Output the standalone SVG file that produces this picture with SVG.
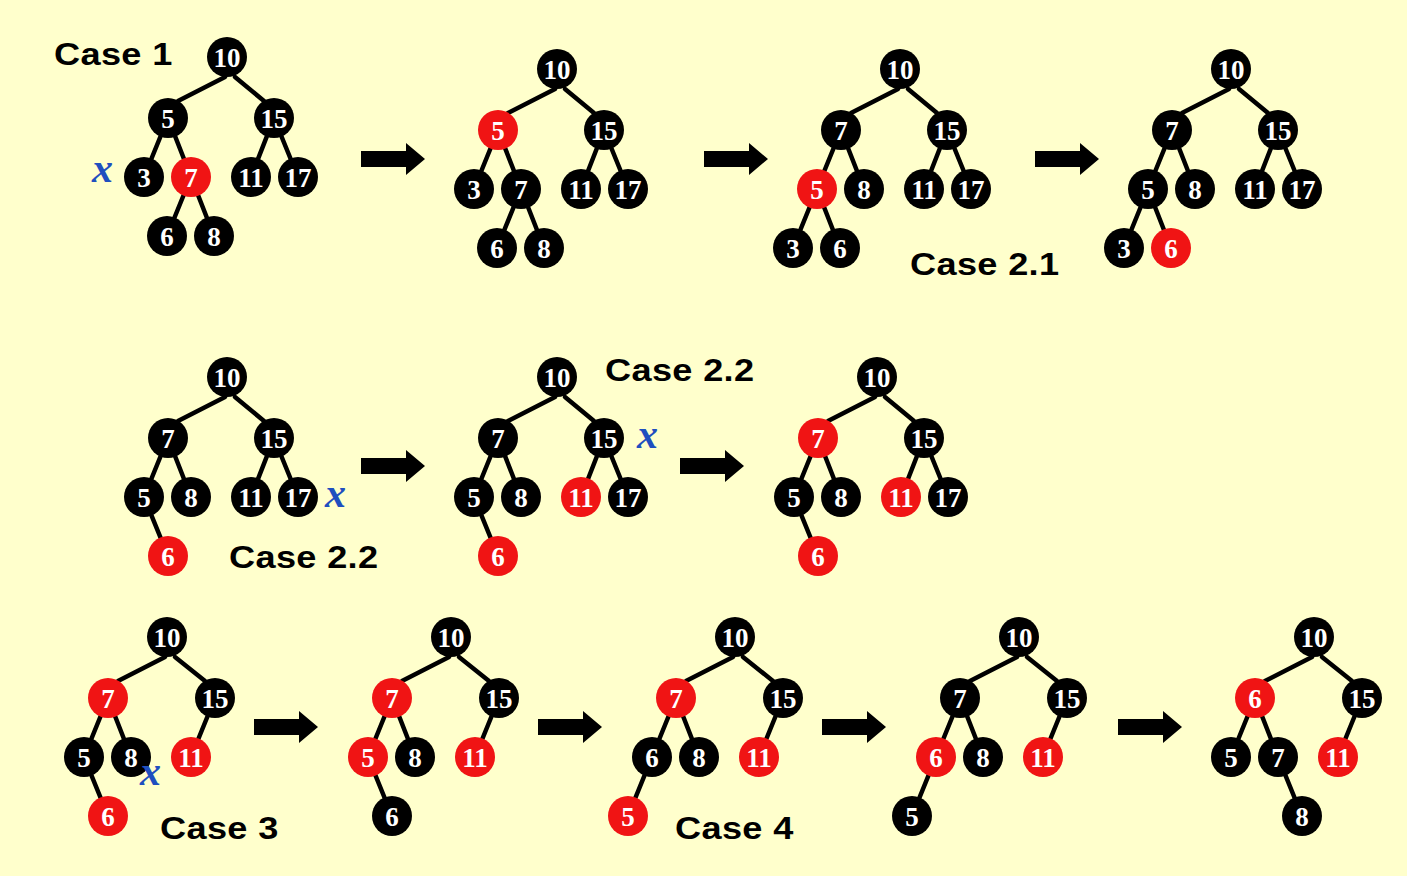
<svg xmlns="http://www.w3.org/2000/svg" xmlns:xlink="http://www.w3.org/1999/xlink" width="1407" height="876" viewBox="0 0 1407 876">
<style>
.e{stroke:#000;stroke-width:4.5;stroke-linecap:round}
.b{fill:#000}
.r{fill:#f01414}
.t{font-family:'Liberation Serif','Times New Roman',serif;font-weight:bold;font-size:27px;fill:#fff;text-anchor:middle}
.cs{font-family:'Liberation Sans',Arial,sans-serif;font-weight:bold;font-size:32px;letter-spacing:0.3px;fill:#000}
.x{font-family:'Liberation Serif','Times New Roman',serif;font-style:italic;font-weight:bold;font-size:42px;fill:#1f4fbf}
</style>
<defs>
<path id="arrow" d="M0,-8 H45 V-16 L64,0 L45,16 V8 H0 Z" fill="#000"/>
</defs>
<rect width="1407" height="876" fill="#ffffcc"/>

<g id="connectors">
<!-- Tree A -->
<line class="e" x1="225" y1="77" x2="178" y2="101"/><line class="e" x1="235" y1="77" x2="264" y2="101"/>
<line class="e" x1="168" y1="118" x2="144" y2="177"/><line class="e" x1="168" y1="118" x2="191" y2="177"/>
<line class="e" x1="274" y1="118" x2="251" y2="177"/><line class="e" x1="274" y1="118" x2="298" y2="177"/>
<line class="e" x1="191" y1="177" x2="167" y2="236"/><line class="e" x1="191" y1="177" x2="214" y2="236"/>
<!-- Tree B -->
<line class="e" x1="555" y1="89" x2="508" y2="113"/><line class="e" x1="565" y1="89" x2="594" y2="113"/>
<line class="e" x1="498" y1="130" x2="474" y2="189"/><line class="e" x1="498" y1="130" x2="521" y2="189"/>
<line class="e" x1="604" y1="130" x2="581" y2="189"/><line class="e" x1="604" y1="130" x2="628" y2="189"/>
<line class="e" x1="521" y1="189" x2="497" y2="248"/><line class="e" x1="521" y1="189" x2="544" y2="248"/>
<!-- Tree C -->
<line class="e" x1="898" y1="89" x2="851" y2="113"/><line class="e" x1="908" y1="89" x2="937" y2="113"/>
<line class="e" x1="841" y1="130" x2="817" y2="189"/><line class="e" x1="841" y1="130" x2="864" y2="189"/>
<line class="e" x1="947" y1="130" x2="924" y2="189"/><line class="e" x1="947" y1="130" x2="971" y2="189"/>
<line class="e" x1="817" y1="189" x2="793" y2="248"/><line class="e" x1="817" y1="189" x2="840" y2="248"/>
<!-- Tree D -->
<line class="e" x1="1229" y1="89" x2="1182" y2="113"/><line class="e" x1="1239" y1="89" x2="1268" y2="113"/>
<line class="e" x1="1172" y1="130" x2="1148" y2="189"/><line class="e" x1="1172" y1="130" x2="1195" y2="189"/>
<line class="e" x1="1278" y1="130" x2="1255" y2="189"/><line class="e" x1="1278" y1="130" x2="1302" y2="189"/>
<line class="e" x1="1148" y1="189" x2="1124" y2="248"/><line class="e" x1="1148" y1="189" x2="1171" y2="248"/>
<!-- Tree E -->
<line class="e" x1="225" y1="397" x2="178" y2="421"/><line class="e" x1="235" y1="397" x2="264" y2="421"/>
<line class="e" x1="168" y1="438" x2="144" y2="497"/><line class="e" x1="168" y1="438" x2="191" y2="497"/>
<line class="e" x1="274" y1="438" x2="251" y2="497"/><line class="e" x1="274" y1="438" x2="298" y2="497"/>
<line class="e" x1="144" y1="497" x2="168" y2="556"/>
<!-- Tree F -->
<line class="e" x1="555" y1="397" x2="508" y2="421"/><line class="e" x1="565" y1="397" x2="594" y2="421"/>
<line class="e" x1="498" y1="438" x2="474" y2="497"/><line class="e" x1="498" y1="438" x2="521" y2="497"/>
<line class="e" x1="604" y1="438" x2="581" y2="497"/><line class="e" x1="604" y1="438" x2="628" y2="497"/>
<line class="e" x1="474" y1="497" x2="498" y2="556"/>
<!-- Tree G -->
<line class="e" x1="875" y1="397" x2="828" y2="421"/><line class="e" x1="885" y1="397" x2="914" y2="421"/>
<line class="e" x1="818" y1="438" x2="794" y2="497"/><line class="e" x1="818" y1="438" x2="841" y2="497"/>
<line class="e" x1="924" y1="438" x2="901" y2="497"/><line class="e" x1="924" y1="438" x2="948" y2="497"/>
<line class="e" x1="794" y1="497" x2="818" y2="556"/>
<!-- Tree H -->
<line class="e" x1="165" y1="657" x2="118" y2="681"/><line class="e" x1="175" y1="657" x2="205" y2="681"/>
<line class="e" x1="108" y1="698" x2="84" y2="757"/><line class="e" x1="108" y1="698" x2="131" y2="757"/>
<line class="e" x1="215" y1="698" x2="191" y2="757"/>
<line class="e" x1="84" y1="757" x2="108" y2="816"/>
<!-- Tree I -->
<line class="e" x1="449" y1="657" x2="402" y2="681"/><line class="e" x1="459" y1="657" x2="489" y2="681"/>
<line class="e" x1="392" y1="698" x2="368" y2="757"/><line class="e" x1="392" y1="698" x2="415" y2="757"/>
<line class="e" x1="499" y1="698" x2="475" y2="757"/>
<line class="e" x1="368" y1="757" x2="392" y2="816"/>
<!-- Tree J -->
<line class="e" x1="733" y1="657" x2="686" y2="681"/><line class="e" x1="743" y1="657" x2="773" y2="681"/>
<line class="e" x1="676" y1="698" x2="652" y2="757"/><line class="e" x1="676" y1="698" x2="699" y2="757"/>
<line class="e" x1="783" y1="698" x2="759" y2="757"/>
<line class="e" x1="652" y1="757" x2="628" y2="816"/>
<!-- Tree K -->
<line class="e" x1="1017" y1="657" x2="970" y2="681"/><line class="e" x1="1027" y1="657" x2="1057" y2="681"/>
<line class="e" x1="960" y1="698" x2="936" y2="757"/><line class="e" x1="960" y1="698" x2="983" y2="757"/>
<line class="e" x1="1067" y1="698" x2="1043" y2="757"/>
<line class="e" x1="936" y1="757" x2="912" y2="816"/>
<!-- Tree L -->
<line class="e" x1="1312" y1="657" x2="1265" y2="681"/><line class="e" x1="1322" y1="657" x2="1352" y2="681"/>
<line class="e" x1="1255" y1="698" x2="1231" y2="757"/><line class="e" x1="1255" y1="698" x2="1278" y2="757"/>
<line class="e" x1="1362" y1="698" x2="1338" y2="757"/>
<line class="e" x1="1278" y1="757" x2="1302" y2="816"/>
<!-- Arrows -->
<use xlink:href="#arrow" href="#arrow" transform="translate(361,159)"/>
<use xlink:href="#arrow" href="#arrow" transform="translate(704,159)"/>
<use xlink:href="#arrow" href="#arrow" transform="translate(1035,159)"/>
<use xlink:href="#arrow" href="#arrow" transform="translate(361,466)"/>
<use xlink:href="#arrow" href="#arrow" transform="translate(680,466)"/>
<use xlink:href="#arrow" href="#arrow" transform="translate(254,727)"/>
<use xlink:href="#arrow" href="#arrow" transform="translate(538,727)"/>
<use xlink:href="#arrow" href="#arrow" transform="translate(822,727)"/>
<use xlink:href="#arrow" href="#arrow" transform="translate(1118,727)"/>
</g>

<!-- Tree A -->
<g id="A10"><circle class="b" cx="227" cy="57" r="20"/><text class="t" x="227" y="67">10</text></g>
<g id="A5"><circle class="b" cx="168" cy="118" r="20"/><text class="t" x="168" y="128">5</text></g>
<g id="A15"><circle class="b" cx="274" cy="118" r="20"/><text class="t" x="274" y="128">15</text></g>
<g id="A3"><circle class="b" cx="144" cy="177" r="20"/><text class="t" x="144" y="187">3</text></g>
<g id="A7"><circle class="r" cx="191" cy="177" r="20"/><text class="t" x="191" y="187">7</text></g>
<g id="A11"><circle class="b" cx="251" cy="177" r="20"/><text class="t" x="251" y="187">11</text></g>
<g id="A17"><circle class="b" cx="298" cy="177" r="20"/><text class="t" x="298" y="187">17</text></g>
<g id="A6"><circle class="b" cx="167" cy="236" r="20"/><text class="t" x="167" y="246">6</text></g>
<g id="A8"><circle class="b" cx="214" cy="236" r="20"/><text class="t" x="214" y="246">8</text></g>

<!-- Tree B -->
<g id="B10"><circle class="b" cx="557" cy="69" r="20"/><text class="t" x="557" y="79">10</text></g>
<g id="B5"><circle class="r" cx="498" cy="130" r="20"/><text class="t" x="498" y="140">5</text></g>
<g id="B15"><circle class="b" cx="604" cy="130" r="20"/><text class="t" x="604" y="140">15</text></g>
<g id="B3"><circle class="b" cx="474" cy="189" r="20"/><text class="t" x="474" y="199">3</text></g>
<g id="B7"><circle class="b" cx="521" cy="189" r="20"/><text class="t" x="521" y="199">7</text></g>
<g id="B11"><circle class="b" cx="581" cy="189" r="20"/><text class="t" x="581" y="199">11</text></g>
<g id="B17"><circle class="b" cx="628" cy="189" r="20"/><text class="t" x="628" y="199">17</text></g>
<g id="B6"><circle class="b" cx="497" cy="248" r="20"/><text class="t" x="497" y="258">6</text></g>
<g id="B8"><circle class="b" cx="544" cy="248" r="20"/><text class="t" x="544" y="258">8</text></g>

<!-- Tree C -->
<g id="C10"><circle class="b" cx="900" cy="69" r="20"/><text class="t" x="900" y="79">10</text></g>
<g id="C7"><circle class="b" cx="841" cy="130" r="20"/><text class="t" x="841" y="140">7</text></g>
<g id="C15"><circle class="b" cx="947" cy="130" r="20"/><text class="t" x="947" y="140">15</text></g>
<g id="C5"><circle class="r" cx="817" cy="189" r="20"/><text class="t" x="817" y="199">5</text></g>
<g id="C8"><circle class="b" cx="864" cy="189" r="20"/><text class="t" x="864" y="199">8</text></g>
<g id="C11"><circle class="b" cx="924" cy="189" r="20"/><text class="t" x="924" y="199">11</text></g>
<g id="C17"><circle class="b" cx="971" cy="189" r="20"/><text class="t" x="971" y="199">17</text></g>
<g id="C3"><circle class="b" cx="793" cy="248" r="20"/><text class="t" x="793" y="258">3</text></g>
<g id="C6"><circle class="b" cx="840" cy="248" r="20"/><text class="t" x="840" y="258">6</text></g>

<!-- Tree D -->
<g id="D10"><circle class="b" cx="1231" cy="69" r="20"/><text class="t" x="1231" y="79">10</text></g>
<g id="D7"><circle class="b" cx="1172" cy="130" r="20"/><text class="t" x="1172" y="140">7</text></g>
<g id="D15"><circle class="b" cx="1278" cy="130" r="20"/><text class="t" x="1278" y="140">15</text></g>
<g id="D5"><circle class="b" cx="1148" cy="189" r="20"/><text class="t" x="1148" y="199">5</text></g>
<g id="D8"><circle class="b" cx="1195" cy="189" r="20"/><text class="t" x="1195" y="199">8</text></g>
<g id="D11"><circle class="b" cx="1255" cy="189" r="20"/><text class="t" x="1255" y="199">11</text></g>
<g id="D17"><circle class="b" cx="1302" cy="189" r="20"/><text class="t" x="1302" y="199">17</text></g>
<g id="D3"><circle class="b" cx="1124" cy="248" r="20"/><text class="t" x="1124" y="258">3</text></g>
<g id="D6"><circle class="r" cx="1171" cy="248" r="20"/><text class="t" x="1171" y="258">6</text></g>

<!-- Tree E -->
<g id="E10"><circle class="b" cx="227" cy="377" r="20"/><text class="t" x="227" y="387">10</text></g>
<g id="E7"><circle class="b" cx="168" cy="438" r="20"/><text class="t" x="168" y="448">7</text></g>
<g id="E15"><circle class="b" cx="274" cy="438" r="20"/><text class="t" x="274" y="448">15</text></g>
<g id="E5"><circle class="b" cx="144" cy="497" r="20"/><text class="t" x="144" y="507">5</text></g>
<g id="E8"><circle class="b" cx="191" cy="497" r="20"/><text class="t" x="191" y="507">8</text></g>
<g id="E11"><circle class="b" cx="251" cy="497" r="20"/><text class="t" x="251" y="507">11</text></g>
<g id="E17"><circle class="b" cx="298" cy="497" r="20"/><text class="t" x="298" y="507">17</text></g>
<g id="E6"><circle class="r" cx="168" cy="556" r="20"/><text class="t" x="168" y="566">6</text></g>

<!-- Tree F -->
<g id="F10"><circle class="b" cx="557" cy="377" r="20"/><text class="t" x="557" y="387">10</text></g>
<g id="F7"><circle class="b" cx="498" cy="438" r="20"/><text class="t" x="498" y="448">7</text></g>
<g id="F15"><circle class="b" cx="604" cy="438" r="20"/><text class="t" x="604" y="448">15</text></g>
<g id="F5"><circle class="b" cx="474" cy="497" r="20"/><text class="t" x="474" y="507">5</text></g>
<g id="F8"><circle class="b" cx="521" cy="497" r="20"/><text class="t" x="521" y="507">8</text></g>
<g id="F11"><circle class="r" cx="581" cy="497" r="20"/><text class="t" x="581" y="507">11</text></g>
<g id="F17"><circle class="b" cx="628" cy="497" r="20"/><text class="t" x="628" y="507">17</text></g>
<g id="F6"><circle class="r" cx="498" cy="556" r="20"/><text class="t" x="498" y="566">6</text></g>

<!-- Tree G -->
<g id="G10"><circle class="b" cx="877" cy="377" r="20"/><text class="t" x="877" y="387">10</text></g>
<g id="G7"><circle class="r" cx="818" cy="438" r="20"/><text class="t" x="818" y="448">7</text></g>
<g id="G15"><circle class="b" cx="924" cy="438" r="20"/><text class="t" x="924" y="448">15</text></g>
<g id="G5"><circle class="b" cx="794" cy="497" r="20"/><text class="t" x="794" y="507">5</text></g>
<g id="G8"><circle class="b" cx="841" cy="497" r="20"/><text class="t" x="841" y="507">8</text></g>
<g id="G11"><circle class="r" cx="901" cy="497" r="20"/><text class="t" x="901" y="507">11</text></g>
<g id="G17"><circle class="b" cx="948" cy="497" r="20"/><text class="t" x="948" y="507">17</text></g>
<g id="G6"><circle class="r" cx="818" cy="556" r="20"/><text class="t" x="818" y="566">6</text></g>

<!-- Tree H -->
<g id="H10"><circle class="b" cx="167" cy="637" r="20"/><text class="t" x="167" y="647">10</text></g>
<g id="H7"><circle class="r" cx="108" cy="698" r="20"/><text class="t" x="108" y="708">7</text></g>
<g id="H15"><circle class="b" cx="215" cy="698" r="20"/><text class="t" x="215" y="708">15</text></g>
<g id="H5"><circle class="b" cx="84" cy="757" r="20"/><text class="t" x="84" y="767">5</text></g>
<g id="H8"><circle class="b" cx="131" cy="757" r="20"/><text class="t" x="131" y="767">8</text></g>
<g id="H11"><circle class="r" cx="191" cy="757" r="20"/><text class="t" x="191" y="767">11</text></g>
<g id="H6"><circle class="r" cx="108" cy="816" r="20"/><text class="t" x="108" y="826">6</text></g>

<!-- Tree I -->
<g id="I10"><circle class="b" cx="451" cy="637" r="20"/><text class="t" x="451" y="647">10</text></g>
<g id="I7"><circle class="r" cx="392" cy="698" r="20"/><text class="t" x="392" y="708">7</text></g>
<g id="I15"><circle class="b" cx="499" cy="698" r="20"/><text class="t" x="499" y="708">15</text></g>
<g id="I5"><circle class="r" cx="368" cy="757" r="20"/><text class="t" x="368" y="767">5</text></g>
<g id="I8"><circle class="b" cx="415" cy="757" r="20"/><text class="t" x="415" y="767">8</text></g>
<g id="I11"><circle class="r" cx="475" cy="757" r="20"/><text class="t" x="475" y="767">11</text></g>
<g id="I6"><circle class="b" cx="392" cy="816" r="20"/><text class="t" x="392" y="826">6</text></g>

<!-- Tree J -->
<g id="J10"><circle class="b" cx="735" cy="637" r="20"/><text class="t" x="735" y="647">10</text></g>
<g id="J7"><circle class="r" cx="676" cy="698" r="20"/><text class="t" x="676" y="708">7</text></g>
<g id="J15"><circle class="b" cx="783" cy="698" r="20"/><text class="t" x="783" y="708">15</text></g>
<g id="J6"><circle class="b" cx="652" cy="757" r="20"/><text class="t" x="652" y="767">6</text></g>
<g id="J8"><circle class="b" cx="699" cy="757" r="20"/><text class="t" x="699" y="767">8</text></g>
<g id="J11"><circle class="r" cx="759" cy="757" r="20"/><text class="t" x="759" y="767">11</text></g>
<g id="J5"><circle class="r" cx="628" cy="816" r="20"/><text class="t" x="628" y="826">5</text></g>

<!-- Tree K -->
<g id="K10"><circle class="b" cx="1019" cy="637" r="20"/><text class="t" x="1019" y="647">10</text></g>
<g id="K7"><circle class="b" cx="960" cy="698" r="20"/><text class="t" x="960" y="708">7</text></g>
<g id="K15"><circle class="b" cx="1067" cy="698" r="20"/><text class="t" x="1067" y="708">15</text></g>
<g id="K6"><circle class="r" cx="936" cy="757" r="20"/><text class="t" x="936" y="767">6</text></g>
<g id="K8"><circle class="b" cx="983" cy="757" r="20"/><text class="t" x="983" y="767">8</text></g>
<g id="K11"><circle class="r" cx="1043" cy="757" r="20"/><text class="t" x="1043" y="767">11</text></g>
<g id="K5"><circle class="b" cx="912" cy="816" r="20"/><text class="t" x="912" y="826">5</text></g>

<!-- Tree L -->
<g id="L10"><circle class="b" cx="1314" cy="637" r="20"/><text class="t" x="1314" y="647">10</text></g>
<g id="L6"><circle class="r" cx="1255" cy="698" r="20"/><text class="t" x="1255" y="708">6</text></g>
<g id="L15"><circle class="b" cx="1362" cy="698" r="20"/><text class="t" x="1362" y="708">15</text></g>
<g id="L5"><circle class="b" cx="1231" cy="757" r="20"/><text class="t" x="1231" y="767">5</text></g>
<g id="L7"><circle class="b" cx="1278" cy="757" r="20"/><text class="t" x="1278" y="767">7</text></g>
<g id="L11"><circle class="r" cx="1338" cy="757" r="20"/><text class="t" x="1338" y="767">11</text></g>
<g id="L8"><circle class="b" cx="1302" cy="816" r="20"/><text class="t" x="1302" y="826">8</text></g>

<g id="labels">
<text class="cs" transform="translate(54,65) scale(1.13,1)">Case 1</text>
<text class="cs" transform="translate(910,275) scale(1.13,1)">Case 2.1</text>
<text class="cs" transform="translate(229,568) scale(1.13,1)">Case 2.2</text>
<text class="cs" transform="translate(605,381) scale(1.13,1)">Case 2.2</text>
<text class="cs" transform="translate(160,839) scale(1.13,1)">Case 3</text>
<text class="cs" transform="translate(675,839) scale(1.13,1)">Case 4</text>
<text class="x" x="92" y="182">x</text>
<text class="x" x="325" y="507">x</text>
<text class="x" x="637" y="448">x</text>
<text class="x" x="140" y="785">x</text>
</g>
</svg>
